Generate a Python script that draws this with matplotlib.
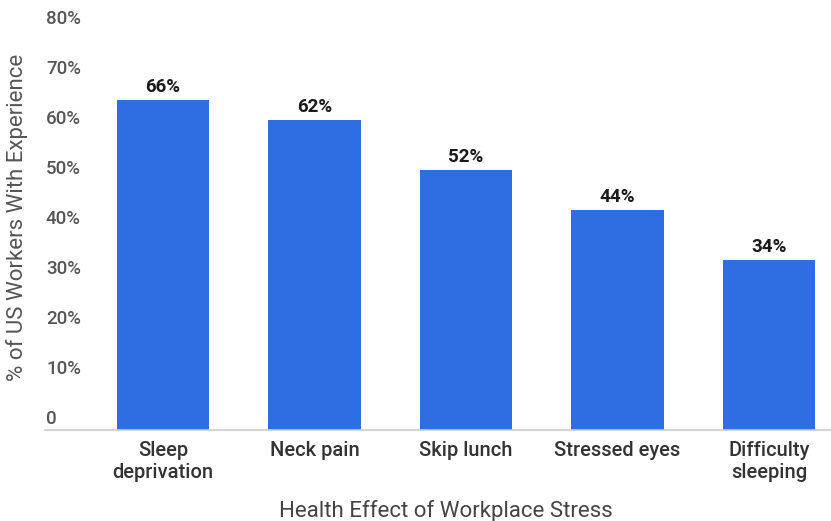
import matplotlib
matplotlib.use("Agg")
import matplotlib.pyplot as plt
import matplotlib.transforms as mtransforms

categories = ["Sleep\ndeprivation", "Neck pain", "Skip lunch", "Stressed eyes", "Difficulty\nsleeping"]
values = [66, 62, 52, 44, 34]
y_ticks = [0, 10, 20, 30, 40, 50, 60, 70, 80]
y_tick_labels = ["0", "10%", "20%", "30%", "40%", "50%", "60%", "70%", "80%"]

BAR_COLOR = "#2f6de3"
plt.rcParams["font.family"] = ["Roboto", "DejaVu Sans"]

fig = plt.figure(figsize=(8.31, 5.21), dpi=100)
ax = fig.add_axes([45 / 831, 91 / 521, 786 / 831, 400 / 521])

x = range(len(categories))
bars = ax.bar(x, values, width=0.61, color=BAR_COLOR, zorder=2)
for b, v in zip(bars, values):
    ax.text(b.get_x() + b.get_width() / 2, v + 0.7, f"{v}%", ha="center", va="bottom",
            fontsize=13.5, fontweight="bold", color="#1a1a1a")

ax.set_xlim(-0.779, 4.409)
ax.set_ylim(0, 80)

# y labels: left aligned and sitting above their value, like the source chart
ax.set_yticks(y_ticks)
ax.set_yticklabels([])
lift = mtransforms.ScaledTranslation(1 / 100, 11 / 100, fig.dpi_scale_trans)
trans = mtransforms.blended_transform_factory(ax.transAxes, ax.transData) + lift
for t, lab in zip(y_ticks, y_tick_labels):
    ax.text(0, t, lab, transform=trans, ha="left", va="center",
            fontsize=13.5, fontweight="medium", color="#555555", clip_on=False)

ax.set_xticks(list(x))
ax.set_xticklabels(categories, fontsize=14.5, fontweight="medium", color="#333333", linespacing=1.2)

ax.tick_params(axis="both", length=0)
ax.tick_params(axis="x", pad=8)
for s in ["top", "right", "left"]:
    ax.spines[s].set_visible(False)
ax.spines["bottom"].set_color("#cccccc")
ax.spines["bottom"].set_linewidth(1.2)

ax.set_xlabel("Health Effect of Workplace Stress", fontsize=16, color="#444444")
ax.set_ylabel("% of US Workers With Experience", fontsize=16, color="#555555")
ax.yaxis.set_label_coords(-0.0216, 0.5325)
ax.xaxis.set_label_coords(0.51, -0.175)

fig.savefig("out.png", dpi=100)
